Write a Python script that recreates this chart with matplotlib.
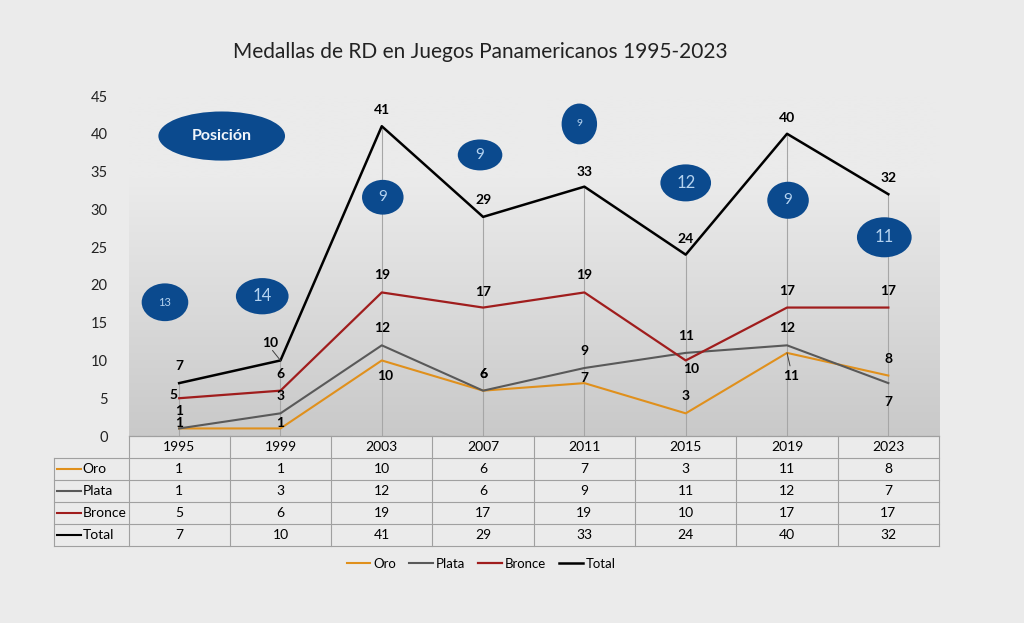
import matplotlib
matplotlib.use("Agg")
import matplotlib.pyplot as plt
import numpy as np
from matplotlib.patches import Ellipse
from matplotlib.transforms import blended_transform_factory

plt.rcParams['font.family'] = ['Lato', 'DejaVu Sans']

years = ['1995', '1999', '2003', '2007', '2011', '2015', '2019', '2023']
oro = [1, 1, 10, 6, 7, 3, 11, 8]
plata = [1, 3, 12, 6, 9, 11, 12, 7]
bronce = [5, 6, 19, 17, 19, 10, 17, 17]
total = [7, 10, 41, 29, 33, 24, 40, 32]
series_names = ['Oro', 'Plata', 'Bronce', 'Total']
posiciones = ['13', '14', '9', '9', '9', '12', '9', '11']

colors = ['#e0901c', '#595959', '#a01d1d', '#000000']
widths = [1.5, 1.5, 1.6, 1.8]

# label offsets in pixels (dx, dy)
offs = {
    'Oro': [(0, 5), (0, 5), (3, -16), (0, 17), (0, 5), (0, 17), (4, -23), (0, 17)],
    'Plata': [(0, 17), (0, 17), (0, 17), (0, 17), (0, 17), (0, 17), (0, 17), (0, -19)],
    'Bronce': [(-6, 3), (0, 17), (0, 17), (0, 16), (0, 17), (5, -9), (0, 17), (0, 17)],
    'Total': [(0, 17), (-10, 17), (0, 16), (0, 17), (0, 15), (0, 16), (0, 16), (0, 16)],
}
# ellipse placement: (x, y, w, h, fontsize) in data units
ell_pos = [(-0.14, 17.7, 0.46, 5.0, 8), (0.82, 18.5, 0.52, 4.8, 12),
           (2.01, 31.6, 0.41, 4.6, 11), (2.97, 37.2, 0.44, 4.1, 11),
           (3.95, 41.3, 0.35, 5.4, 7.5), (5.0, 33.5, 0.50, 4.9, 12),
           (6.01, 31.2, 0.41, 4.9, 11), (6.96, 26.3, 0.54, 5.3, 12)]

W, H = 1024, 623
fig = plt.figure(figsize=(W / 100, H / 100), dpi=100)
fig.patch.set_facecolor('#ebebeb')
x0, x1, ytop, ybot = 128.5, 939, 96, 436
ax = fig.add_axes([x0 / W, 1 - ybot / H, (x1 - x0) / W, (ybot - ytop) / H])
ax.set_xlim(-0.5, 7.5)
ax.set_ylim(0, 45)

# gradient background
yy = np.linspace(0, 45, 200)
t = np.clip(yy / 34, 0, 1)
c = (0xc9 + (0xeb - 0xc9) * t) / 255
img = np.repeat(c[:, None, None], 3, axis=2)
ax.imshow(img, extent=[-0.5, 7.5, 0, 45], origin='lower', aspect='auto', zorder=0)
ax.set_facecolor('#ebebeb')

xs = np.arange(len(years))
# drop lines
ax.vlines(xs, 0, total, color='#a6a6a6', lw=0.8, zorder=1)

data = [oro, plata, bronce, total]
lines = []
for name, vals, col, lw in zip(series_names, data, colors, widths):
    ln, = ax.plot(xs, vals, color=col, lw=lw, label=name, zorder=3)
    lines.append(ln)
for name, vals in zip(series_names, data):
    for i, v in enumerate(vals):
        dx, dy = offs[name][i]
        ax.annotate(str(v), (i, v), xytext=(dx, dy), textcoords='offset pixels',
                    ha='center', va='center', fontsize=10, fontweight='bold',
                    color='black', zorder=5)
# leader lines
ax.annotate('', (1, 10), xytext=(-8, 10), textcoords='offset pixels',
            arrowprops=dict(arrowstyle='-', color='#404040', lw=0.7, shrinkA=0, shrinkB=0))
ax.annotate('', (6, 11), xytext=(3, -13), textcoords='offset pixels',
            arrowprops=dict(arrowstyle='-', color='#404040', lw=0.7, shrinkA=0, shrinkB=0))

# position ellipses
blue = '#0b4a8e'
ax.add_patch(Ellipse((0.42, 39.7), 1.25, 6.5, facecolor=blue, edgecolor='none', zorder=6))
ax.text(0.42, 39.7, 'Posición', ha='center', va='center', color='#f2f6fb',
        fontsize=11.5, fontweight='bold', zorder=7)
for (ex, ey, ew, eh, fs), p in zip(ell_pos, posiciones):
    ax.add_patch(Ellipse((ex, ey), ew, eh, facecolor=blue, edgecolor='none', zorder=6))
    ax.text(ex, ey, p, ha='center', va='center', color='#b5d3f0', fontsize=fs, zorder=7)

ax.set_yticks(range(0, 46, 5))
ax.set_xticks([])
ax.tick_params(axis='y', length=0, pad=15, labelsize=10.5, labelcolor='#222222')
for s in ['top', 'right', 'left']:
    ax.spines[s].set_visible(False)
ax.spines['bottom'].set_color('#a0a0a0')

# data table under the axis
tr = blended_transform_factory(ax.transData, ax.transAxes)
rh = 22 / (ybot - ytop)
xl = -0.5 - (x0 - 54) / ((x1 - x0) / 8)
gc = '#a0a0a0'
for k in range(6):
    xa = -0.5 if k == 0 else xl
    ax.plot([xa, 7.5], [-k * rh, -k * rh], color=gc, lw=0.8, transform=tr, clip_on=False)
for b in np.arange(-0.5, 8, 1):
    ax.plot([b, b], [0, -5 * rh], color=gc, lw=0.8, transform=tr, clip_on=False)
ax.plot([xl, xl], [-rh, -5 * rh], color=gc, lw=0.8, transform=tr, clip_on=False)
for i, yr in enumerate(years):
    ax.text(i, -0.5 * rh, yr, ha='center', va='center', fontsize=10, transform=tr)
for r, (name, vals, col) in enumerate(zip(series_names, data, colors)):
    yc = -(r + 1.5) * rh
    ax.plot([xl + 0.03, xl + 0.265], [yc, yc], color=col, lw=1.5, transform=tr, clip_on=False)
    ax.text(xl + 0.285, yc, name, ha='left', va='center', fontsize=10, transform=tr)
    for i, v in enumerate(vals):
        ax.text(i, yc, str(v), ha='center', va='center', fontsize=10, transform=tr)

fig.text(480 / W, 1 - 52 / H, 'Medallas de RD en Juegos Panamericanos 1995-2023',
         ha='center', va='center', fontsize=15, color='#222222')

fig.legend(handles=lines, loc='center', bbox_to_anchor=(481 / W, 1 - 564 / H), ncol=4,
           frameon=False, fontsize=9.5, handlelength=1.8, handletextpad=0.2,
           columnspacing=1.0)

fig.savefig('out.png', dpi=100, facecolor=fig.get_facecolor())
